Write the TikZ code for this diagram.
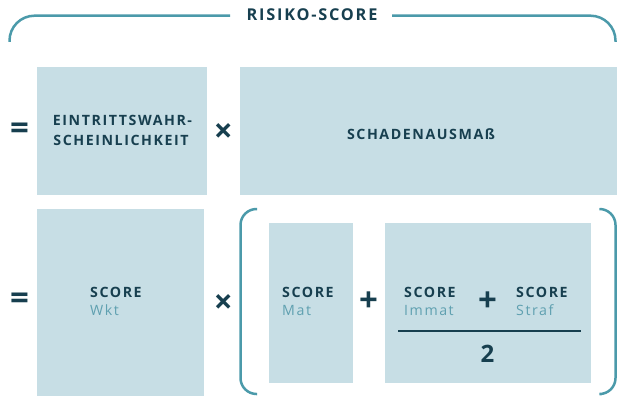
\documentclass[tikz,border=0pt]{standalone}
\usepackage{fontspec}
\setmainfont{Open Sans}
\newfontfamily\lsp[LetterSpace=11]{Open Sans}
\definecolor{boxc}{HTML}{C7DEE5}
\definecolor{dark}{HTML}{173F4F}
\definecolor{brk}{HTML}{4B9AAA}
\definecolor{subc}{HTML}{5FA0B0}
\newcommand{\scorelab}[1]{{\bfseries SCORE}\\{\mdseries\color{subc}#1}}
\begin{document}
\begin{tikzpicture}[x=1pt,y=-1pt,
  boxn/.style={fill=boxc, draw=none, inner sep=0pt, anchor=north west},
  lab/.style={text=dark, font=\lsp\bfseries\fontsize{14.2}{20}\selectfont, inner sep=0pt},
  slab/.style={text=dark, font=\lsp\fontsize{14.2}{18.5}\selectfont, inner sep=0pt, align=left, anchor=base west},
  sym/.style={text=dark, font=\bfseries\fontsize{33}{33}\selectfont, inner sep=0pt},
  brace/.style={draw=brk, line width=2.5pt},
]
\useasboundingbox (0,0) rectangle (617,396);

% top brace
\node[lab, font=\lsp\bfseries\fontsize{16.3}{18}\selectfont, anchor=base] (title) at (312,21) {RISIKO-SCORE};
\coordinate (tl) at (9.5,42);
\coordinate (tr) at (615.5,42);
\draw[brace, rounded corners=25pt] (tl) -- (9.5,15.7) -- (230,15.7);
\draw[brace, rounded corners=25pt] (392,15.7) -- (615.5,15.7) -- (tr);

% row 1
\node[boxn, minimum width=170pt, minimum height=128pt] (ew) at (37,67) {};
\node[lab, align=center, anchor=base] (ewt) at (121,145) {EINTRITTSWAHR-\kern-3pt\\SCHEINLICHKEIT};
\node[boxn, minimum width=377pt, minimum height=128pt] (sa) at (240,67) {};
\node[lab, anchor=base] (sat) at (421,139.5) {SCHADENAUSMAß};
\node[sym] (eq1) at (19.5,131) {=};
\node[sym] (x1) at (223.3,133) {×};

% row 2
\node[boxn, minimum width=167pt, minimum height=187pt] (wkt) at (37,209) {};
\node[slab] (s1) at (90,315.5) {\scorelab{Wkt}};
\node[sym] (eq2) at (19.5,301) {=};
\node[sym] (x2) at (223.3,304) {×};

% bracket
\draw[brace, rounded corners=16pt] (257,209) -- (240.5,209) -- (240.5,394) -- (257,394);
\draw[brace, rounded corners=16pt] (601.5,209) -- (615.5,209) -- (615.5,394) -- (601.5,394);

\node[boxn, minimum width=84pt, minimum height=160pt] (mat) at (269,223) {};
\node[slab] (s2) at (282,315.5) {\scorelab{Mat}};
\node[sym] (p1) at (368.5,302) {+};

\node[boxn, minimum width=206pt, minimum height=160pt] (frac) at (385,223) {};
\node[slab] (s3) at (404,315.5) {\scorelab{Immat}};
\node[sym] (p2) at (487.5,302) {+};
\node[slab] (s4) at (516,315.5) {\scorelab{Straf}};
\coordinate (fl) at (398,331);
\coordinate (fr) at (581,331);
\draw[dark, line width=2pt] (fl) -- (fr);
\node[text=dark, font=\bfseries\fontsize{24}{24}\selectfont, inner sep=0pt] (two) at (487.5,354) {2};
\end{tikzpicture}
\end{document}
